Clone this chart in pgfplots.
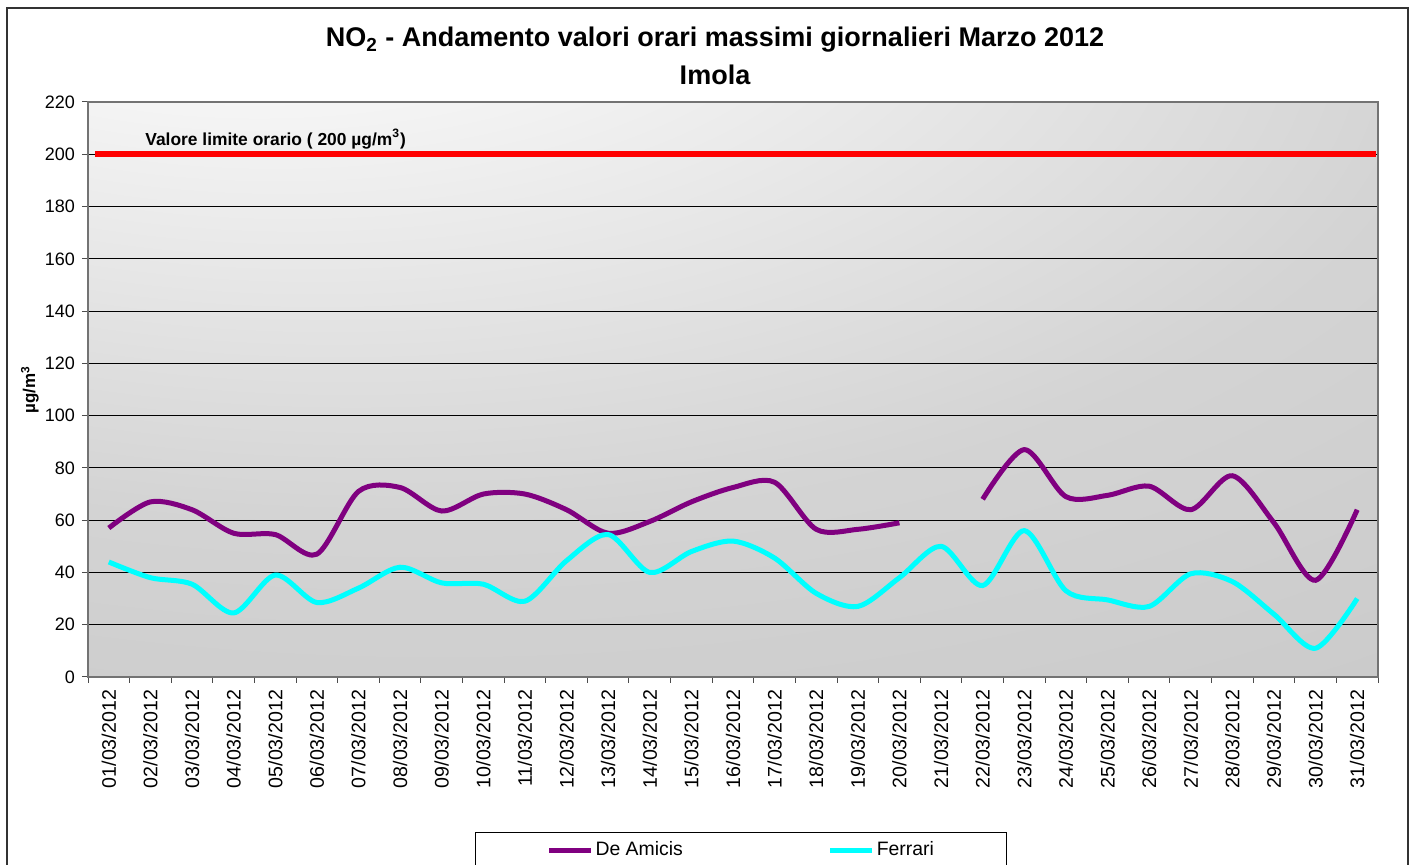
\documentclass[border=0pt]{standalone}
\usepackage{fontspec}
\setmainfont{Liberation Sans}
\usepackage{pgfplots}
\pgfplotsset{compat=1.18}

\definecolor{deamicis}{RGB}{128,0,128}
\definecolor{ferrari}{RGB}{0,255,255}
\definecolor{limite}{RGB}{255,0,0}

% sfondo dell'area del grafico: bianco in alto a sinistra, grigio verso il basso
\pgfdeclareradialshading{sfondo}{\pgfpoint{-22bp}{48bp}}{%
  color(0bp)=(white); color(8bp)=(white); color(40bp)=(black!17);
  color(70bp)=(black!23); color(100bp)=(black!25)}

\pgfplotstableread{
x y
1 57
2 67
3 64
4 55
5 54.5
6 47
7 71
8 72.5
9 63.5
10 70
11 70
12 64
13 55
14 59.5
15 67
16 72.5
17 74.5
18 56.5
19 56.5
20 59
}\deamicisA

\pgfplotstableread{
x y
22 68
23 87
24 69
25 69.5
26 73
27 64
28 77
29 59
30 37
31 64
}\deamicisB

\pgfplotstableread{
x y
1 44
2 38
3 35.5
4 24.5
5 39
6 28.5
7 34
8 42
9 36
10 35.5
11 29
12 44.5
13 54.5
14 40
15 48
16 52
17 45.5
18 32
19 27
20 38
21 50
22 35
23 56
24 33
25 29.5
26 27
27 39.5
28 36.5
29 24
30 11
31 30
}\ferrari

\begin{document}
\begin{tikzpicture}
\begin{axis}[
  at={(0pt,0pt)}, anchor=north west,
  scale only axis,
  width=645pt, height=287.5pt,
  xmin=0.5, xmax=31.5,
  ymin=0, ymax=220,
  ytick={0,20,...,220},
  xtick={0.5,1.5,...,31.5},
  x tick label as interval,
  xticklabels={01/03/2012,02/03/2012,03/03/2012,04/03/2012,05/03/2012,06/03/2012,07/03/2012,08/03/2012,09/03/2012,10/03/2012,11/03/2012,12/03/2012,13/03/2012,14/03/2012,15/03/2012,16/03/2012,17/03/2012,18/03/2012,19/03/2012,20/03/2012,21/03/2012,22/03/2012,23/03/2012,24/03/2012,25/03/2012,26/03/2012,27/03/2012,28/03/2012,29/03/2012,30/03/2012,31/03/2012},
  x tick label style={rotate=90, anchor=east, font=\fontsize{9.8}{11}\selectfont},
  y tick label style={font=\fontsize{9}{11}\selectfont},
  /pgf/number format/assume math mode=true,
  xtick pos=left, ytick pos=left,
  tick align=outside,
  major tick length=3pt,
  tick style={black!70, line width=0.5pt},
  ymajorgrids,
  major grid style={black, line width=0.5pt},
  axis line style={black!55, line width=0.6pt},
  axis background/.style={shading=sfondo},
  ylabel={\textbf{µg/m\textsuperscript{3}}},
  ylabel style={at={(axis description cs:-0.045,0.5)}, anchor=center, font=\fontsize{8.5}{10}\selectfont},
  legend columns=2,
  legend image code/.code={\draw[#1] (0pt,0pt) -- (21pt,0pt);},
  legend style={at={(axis description cs:0.3,-0.2696)}, anchor=north west,
    draw=black, line width=0.5pt, inner xsep=35.5pt, inner ysep=2.5pt,
    font=\fontsize{9.7}{11}\selectfont,
    nodes={inner xsep=1pt},
    /tikz/every even column/.append style={column sep=71.5pt}},
]
\addplot[limite, line width=3pt, forget plot] coordinates {(0.67,200) (31.45,200)};
\addplot[deamicis, line width=2.5pt, smooth, tension=0.5] table {\deamicisA};
\addlegendentry{De Amicis}
\addplot[ferrari, line width=2.5pt, smooth, tension=0.5] table {\ferrari};
\addlegendentry{Ferrari}
\addplot[deamicis, line width=2.5pt, smooth, tension=0.5, forget plot] table {\deamicisB};
\node[anchor=west, inner sep=0pt, font=\bfseries\fontsize{8.7}{10}\selectfont]
  at (axis cs:1.87,205.8) {Valore limite orario ( 200 µg/m\textsuperscript{3})};
\end{axis}
\node[font=\bfseries\fontsize{13.5}{16}\selectfont] at (313.5pt,31pt)
  {NO\textsubscript{2} - Andamento valori orari massimi giornalieri Marzo 2012};
\node[font=\bfseries\fontsize{13.5}{16}\selectfont] at (313.5pt,13.5pt) {Imola};
\draw[black!80, line width=0.6pt] (-40.5pt,47pt) rectangle (660pt,-390pt);
\pgfresetboundingbox
\useasboundingbox (-44pt,51pt) rectangle (663.5pt,-381.5pt);
\end{tikzpicture}
\end{document}
